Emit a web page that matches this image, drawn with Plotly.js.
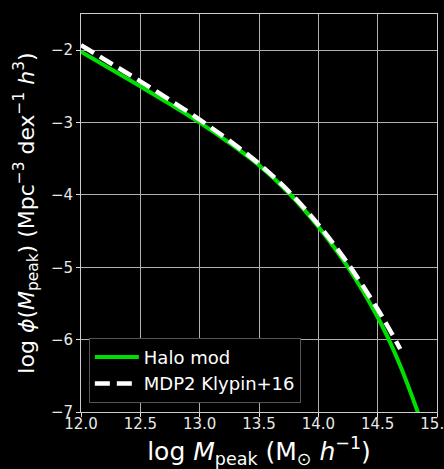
<!DOCTYPE html>
<html>
<head>
<meta charset="utf-8">
<script src="https://cdn.plot.ly/plotly-3.0.1.min.js"></script>
<style>
  html, body { margin: 0; padding: 0; background: #000; }
  #chart { width: 444px; height: 469px; }
</style>
</head>
<body>
<div id="chart"></div>
<script>
// Halo mass function: log phi vs log peak mass
const logMass = [12.0, 12.25, 12.5, 12.75, 13.0, 13.25, 13.5, 13.75, 14.0, 14.25, 14.5, 14.6, 14.7, 14.8, 14.84];
const haloModPhi = [-2.02, -2.26, -2.50, -2.745, -3.00, -3.28, -3.59, -3.97, -4.44, -5.00, -5.69, -6.02, -6.40, -6.83, -7.01];

const mdp2Mass = [12.0, 12.25, 12.5, 12.75, 13.0, 13.25, 13.5, 13.75, 14.0, 14.25, 14.5, 14.6, 14.69];
const mdp2Phi = [-1.93, -2.18, -2.43, -2.69, -2.96, -3.25, -3.57, -3.95, -4.41, -4.95, -5.58, -5.86, -6.13];

const xTicks = [12.0, 12.5, 13.0, 13.5, 14.0, 14.5, 15.0];
const yTicks = [-7, -6, -5, -4, -3, -2];

const traces = [
  {
    x: logMass, y: haloModPhi, mode: 'lines', name: 'Halo mod',
    line: { color: '#00e000', width: 4, shape: 'spline', smoothing: 1 }
  },
  {
    x: mdp2Mass, y: mdp2Phi, mode: 'lines', name: 'MDP2 Klypin+16',
    line: { color: '#ffffff', width: 4.5, dash: '15px,7px', shape: 'spline', smoothing: 1 }
  }
];

const axisCommon = {
  showgrid: true, gridcolor: '#b0b0b0', gridwidth: 1,
  showline: true, linecolor: '#cccccc', linewidth: 1, mirror: true,
  ticks: 'outside', ticklen: 4, tickcolor: '#dddddd', tickwidth: 1,
  zeroline: false, ticklabeloverflow: 'allow',
  tickfont: { family: 'DejaVu Sans', size: 15, color: '#e8e8e8' }
};

const layout = {
  width: 444, height: 469,
  paper_bgcolor: '#000', plot_bgcolor: '#000',
  margin: { l: 81, r: 7, t: 14, b: 57 },
  font: { family: 'DejaVu Sans', color: '#ffffff' },
  xaxis: Object.assign({}, axisCommon, {
    range: [12.0, 15.0], tickvals: xTicks,
    ticktext: xTicks.map(v => v.toFixed(1)),
    ticklabelstandoff: -6,
    title: { text: 'log <i>M</i><sub>peak</sub> (M<sub>⊙</sub> <i>h</i><sup>−1</sup>)',
             font: { family: 'DejaVu Sans', size: 25, color: '#ffffff' }, standoff: 4 }
  }),
  yaxis: Object.assign({}, axisCommon, {
    range: [-7, -1.5], tickvals: yTicks,
    ticktext: yTicks.map(v => '−' + Math.abs(v)),
    title: { text: 'log <i>ϕ</i>(<i>M</i><sub>peak</sub>) (Mpc<sup>−3</sup> dex<sup>−1</sup> <i>h</i><sup>3</sup>)',
             font: { family: 'DejaVu Sans', size: 22, color: '#ffffff' }, standoff: 10 }
  }),
  showlegend: true,
  legend: {
    x: 0.022, y: 0.023, xanchor: 'left', yanchor: 'bottom',
    bgcolor: '#000', bordercolor: '#555555', borderwidth: 1,
    itemwidth: 44,
    font: { family: 'DejaVu Sans', size: 18, color: '#ffffff' }
  }
};

Plotly.newPlot('chart', traces, layout, { displayModeBar: false, staticPlot: true });
</script>
</body>
</html>
